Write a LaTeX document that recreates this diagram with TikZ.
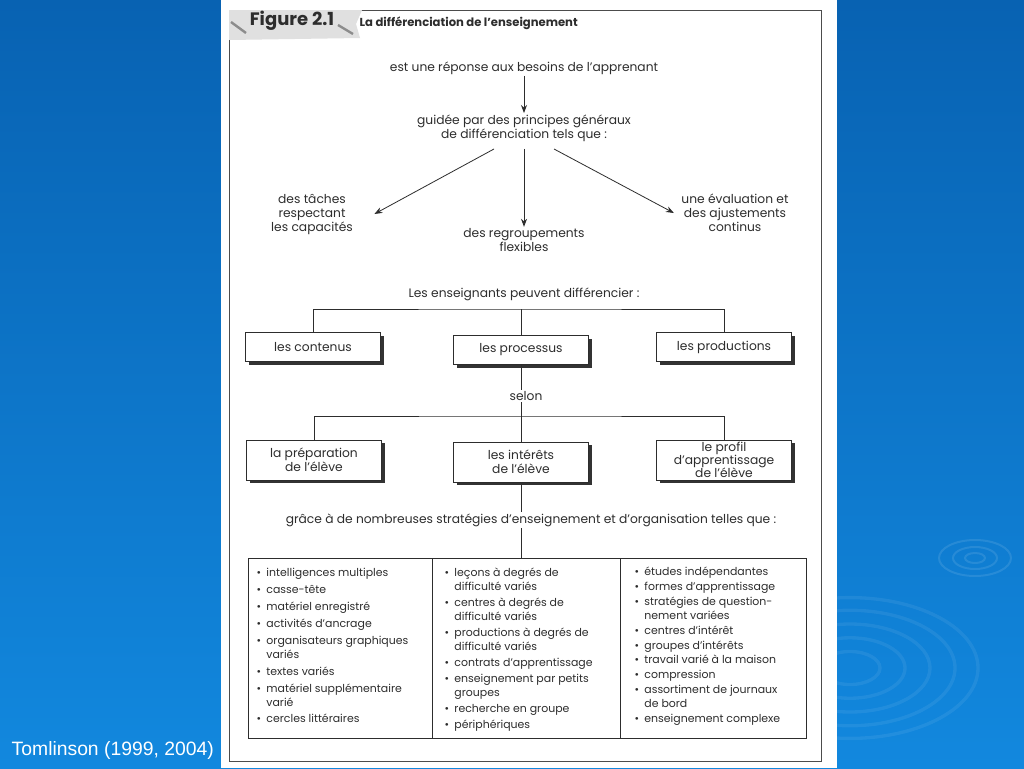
\documentclass[tikz,border=0pt]{standalone}
\usepackage{fontspec}
\setmainfont{Poppins}
\newfontfamily\capfont{Liberation Sans}
\usetikzlibrary{shadows,arrows.meta}

\definecolor{fondhaut}{RGB}{8,98,178}
\definecolor{fondbas}{RGB}{18,136,222}
\definecolor{encre}{RGB}{45,45,45}

\newcommand{\puce}{\textbullet}

\tikzset{
  lbl/.style={font=\fontsize{9.2}{10.5}\selectfont, text=encre, align=center, inner sep=1pt},
  boite/.style={lbl, draw=encre, fill=white, minimum width=101pt, minimum height=22pt,
    drop shadow={shadow xshift=2.5pt, shadow yshift=-2.5pt, fill=black!80, opacity=1}},
  liste/.style={lbl, font=\fontsize{8.2}{10.5}\selectfont, anchor=north west, align=left},
  lien/.style={draw=encre, line width=0.6pt},
  fleche/.style={lien, -{Stealth[length=6pt,width=4.5pt]}}
}

\begin{document}
\begin{tikzpicture}[x=0.75pt,y=-0.75pt]
	% fond bleu
	\fill[top color=fondhaut,bottom color=fondbas] (0,0) rectangle (1024,768);
	\useasboundingbox (0,0) rectangle (1024,768);
	\foreach \r in {30,55,80,105,128}
		\draw[white,opacity=0.07,line width=2.5pt] (850,668) ellipse ({\r} and {0.55*\r});
	\foreach \r in {10,22,36}
		\draw[white,opacity=0.1,line width=1.5pt] (975,558) ellipse ({\r} and {0.5*\r});
	% page
	\fill[white] (221,0) rectangle (837,768);
	\draw[black!70,line width=0.6pt] (229,10) rectangle (821,761);
	\fill[black!12] (229,10) -- (362,10) -- (356,24) -- (360,38) -- (229,40) -- cycle;
	\draw[black!45,line width=1.8pt] (231,22) -- (246,33);
	\draw[black!45,line width=1.8pt] (338,25) -- (353,34);
	\node[font=\bfseries\fontsize{13.5}{15}\selectfont, text=encre] (fig) at (292,21) {Figure 2.1};
	\node[font=\bfseries\fontsize{8.7}{10}\selectfont, text=encre, anchor=west] (titre) at (355,23) {La différenciation de l’enseignement};

	% principes
	\node[lbl] (besoins) at (524,68) {est une réponse aux besoins de l’apprenant};
	\node[lbl] (guidee) at (524,128) {guidée par des principes généraux\\de différenciation tels que :};
	\node[lbl] (taches) at (312,214) {des tâches\\respectant\\les capacités};
	\node[lbl] (regroup) at (524,240) {des regroupements\\flexibles};
	\node[lbl] (evalu) at (735,213) {une évaluation et\\des ajustements\\continus};
	\draw[fleche] (besoins) -- (guidee);
	\draw[fleche] ([shift={(-30,6)}]guidee.south) -- ([shift={(20,0)}]taches.east);
	\draw[fleche] ([shift={(0,6)}]guidee.south) -- (regroup.north);
	\draw[fleche] ([shift={(30,6)}]guidee.south) -- ([shift={(-6,0)}]evalu.west);

	% ce qu'on differencie
	\node[lbl] (ens) at (524,294) {Les enseignants peuvent différencier :};
	\coordinate (haut1) at (521,309);
	\node[boite] (contenus) at (313,347) {les contenus};
	\node[boite] (processus) at (521,350) {les processus};
	\node[boite] (productions) at (724,347) {les productions};
	\draw[lien] (contenus.north) |- (haut1) -| (productions.north);
	\draw[lien] (haut1) -- (processus.north);

	\node[lbl] (selon) at (526,396) {selon};
	\coordinate (haut2) at (521,416);
	\draw[lien] (processus.south) -- (processus.south |- selon.north);
	\draw[lien] (processus.south |- selon.south) -- (haut2);
	\node[boite, minimum height=30pt] (prepa) at (314,460) {la préparation\\de l’élève};
	\node[boite, minimum height=30pt] (interets) at (521,462) {les intérêts\\de l’élève};
	\node[boite, minimum height=30pt, font=\fontsize{9.2}{9.8}\selectfont] (profil) at (724,460) {le profil\\d’apprentissage\\de l’élève};
	\draw[lien] (prepa.north) |- (haut2) -| (profil.north);
	\draw[lien] (haut2) -- (interets.north);

	\node[lbl] (grace) at (531,520) {grâce à de nombreuses stratégies d’enseignement et d’organisation telles que :};
	\coordinate (tabhaut) at (521,558);
	\draw[lien] (interets.south) -- (interets.south |- grace.north);
	\draw[lien] (interets.south |- grace.south) -- (tabhaut);

	% tableau des strategies
	\draw[lien] (248,558) rectangle (806,738);
	\draw[lien] (432,558) -- (432,738);
	\draw[lien] (620,558) -- (620,738);
	\node[liste] (col1) at (255,565) {\begin{tabular}{@{}l@{\hspace{4pt}}l@{}}
		\puce & intelligences multiples\\[2.2pt]
		\puce & casse-tête\\[2.2pt]
		\puce & matériel enregistré\\[2.2pt]
		\puce & activités d’ancrage\\[2.2pt]
		\puce & organisateurs graphiques\\
		      & variés\\[2.2pt]
		\puce & textes variés\\[2.2pt]
		\puce & matériel supplémentaire\\
		      & varié\\[2.2pt]
		\puce & cercles littéraires
	\end{tabular}};
	\node[liste] (col2) at (443,565) {\begin{tabular}{@{}l@{\hspace{4pt}}l@{}}
		\puce & leçons à degrés de\\
		      & difficulté variés\\[1.5pt]
		\puce & centres à degrés de\\
		      & difficulté variés\\[1.5pt]
		\puce & productions à degrés de\\
		      & difficulté variés\\[1.5pt]
		\puce & contrats d’apprentissage\\[1.5pt]
		\puce & enseignement par petits\\
		      & groupes\\[1.5pt]
		\puce & recherche en groupe\\[1.5pt]
		\puce & périphériques
	\end{tabular}};
	\node[liste, font=\fontsize{8.2}{11}\selectfont] (col3) at (633,564) {\begin{tabular}{@{}l@{\hspace{4pt}}l@{}}
		\puce & études indépendantes\\
		\puce & formes d’apprentissage\\
		\puce & stratégies de question-\\
		      & nement variées\\
		\puce & centres d’intérêt\\
		\puce & groupes d’intérêts\\
		\puce & travail varié à la maison\\
		\puce & compression\\
		\puce & assortiment de journaux\\
		      & de bord\\
		\puce & enseignement complexe
	\end{tabular}};

	% source
	\node[font=\capfont\fontsize{14.5}{17}\selectfont, text=white, anchor=west] (source) at (7,750) {Tomlinson (1999, 2004)};
\end{tikzpicture}
\end{document}
